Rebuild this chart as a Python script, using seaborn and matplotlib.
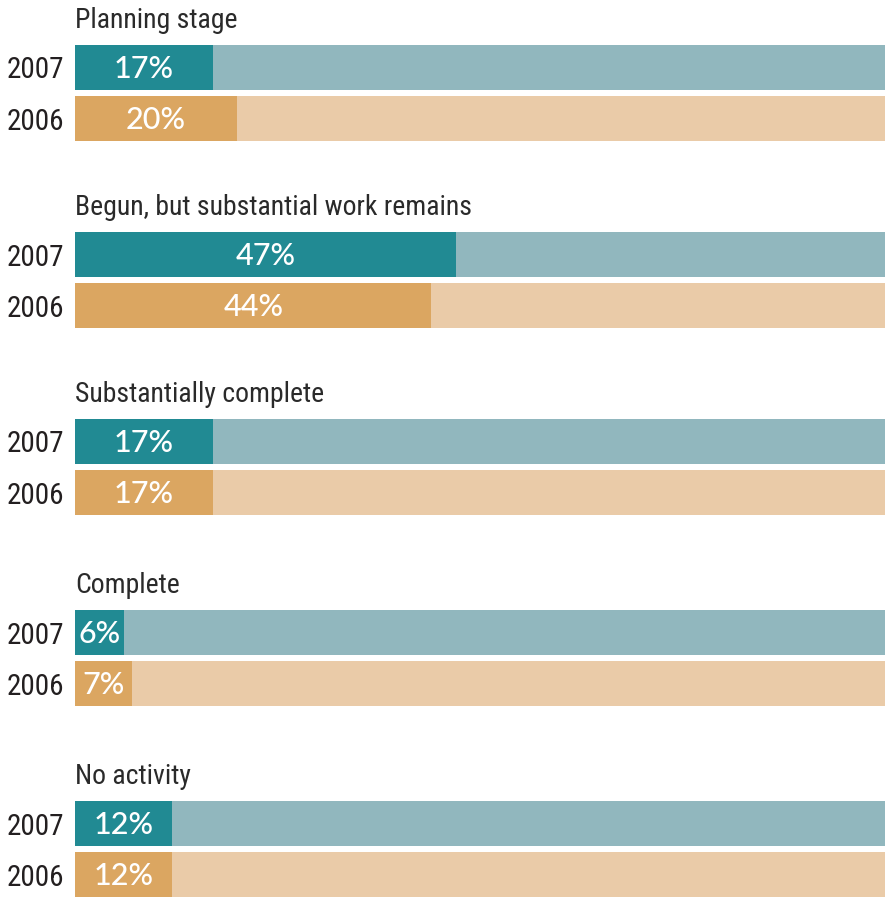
import matplotlib
matplotlib.use("Agg")
import matplotlib.pyplot as plt
from matplotlib import font_manager as fm
import seaborn as sns
import pandas as pd

groups = ["Planning stage", "Begun, but substantial work remains",
          "Substantially complete", "Complete", "No activity"]
years = ["2007", "2006"]
v2007 = [17, 47, 17, 6, 12]
v2006 = [20, 44, 17, 7, 12]
total = [100, 100, 100, 100, 100]

dark = {"2007": "#218A93", "2006": "#DBA661"}
light = {"2007": "#91B7BE", "2006": "#EACBA8"}

sns.set_theme(style="white")

# choose a condensed face if one is available
names = {(f.name, f.stretch) for f in fm.fontManager.ttflist}
fams = {n for n, _ in names}
cond = None
for cand in ["Liberation Sans Narrow", "Roboto Condensed", "Open Sans Condensed",
             "Noto Sans Display", "DejaVu Sans Condensed"]:
    if cand in fams:
        cond = dict(family=[cand, "DejaVu Sans"])
        break
if cond is None:
    for n, s in names:
        if n == "DejaVu Sans" and str(s) in ("condensed", "semi-condensed", "600", "700"):
            cond = dict(family=["DejaVu Sans"], stretch="condensed")
            break
scale = 1.0
if cond is None:
    cond = dict(family=["Roboto", "DejaVu Sans"])
    scale = 0.82
plt.rcParams["font.family"] = cond["family"]

W, H = 886, 897
fig = plt.figure(figsize=(W / 100, H / 100), dpi=100)

tops = [45, 232, 419, 610, 801]   # layout (px) of first bar top per group
grp_h = 96
left_px, right_px = 75, 885
bw = 45 / 51

for i, g in enumerate(groups):
    top = tops[i]
    ax = fig.add_axes([left_px / W, 1 - (top + grp_h) / H,
                       (right_px - left_px) / W, grp_h / H])
    df = pd.DataFrame({"year": years,
                       "value": [v2007[i], v2006[i]],
                       "total": [total[i], total[i]]})
    sns.barplot(data=df, x="total", y="year", hue="year", palette=light,
                orient="h", width=bw, ax=ax, legend=False, saturation=1,
                linewidth=0)
    sns.barplot(data=df, x="value", y="year", hue="year", palette=dark,
                orient="h", width=bw, ax=ax, legend=False, saturation=1,
                linewidth=0)
    ax.set_xlim(0, 100)
    ax.set_ylim(1 + bw / 2, -bw / 2)
    for j, y in enumerate(years):
        val = df["value"][j]
        ax.text(val / 2, j + 0.03, f"{val}%", ha="center", va="center",
                color="white", fontsize=22, fontweight="medium",
                family=["Lato", "DejaVu Sans"])
    ax.set_xlabel("")
    ax.set_ylabel("")
    ax.set_xticks([])
    ax.tick_params(axis="y", length=0, pad=8, labelcolor="#231f20")
    for lab in ax.get_yticklabels():
        lab.set_fontsize(21 * scale)
        if "stretch" in cond:
            lab.set_fontstretch(cond["stretch"])
    for s in ax.spines.values():
        s.set_visible(False)
    ax.patch.set_alpha(0)
    t = fig.text(left_px / W, 1 - (top - 17) / H, g, ha="left", va="baseline",
                 fontsize=20 * scale, fontweight="normal", color="#2a2a2a")
    if "stretch" in cond:
        t.set_fontstretch(cond["stretch"])

fig.savefig("out.png", dpi=100)
